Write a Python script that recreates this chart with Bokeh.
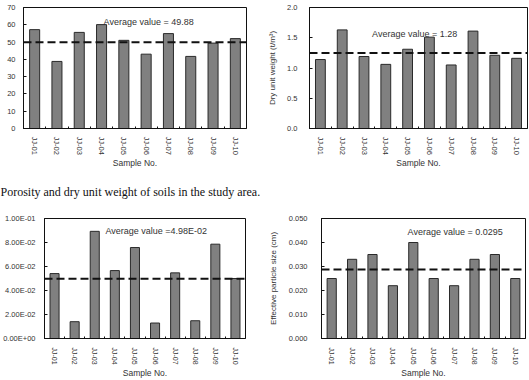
from bokeh.plotting import figure
from bokeh.models import Range1d, FixedTicker, Span, Label
from bokeh.layouts import column, row
from bokeh.embed import file_html
from bokeh.resources import INLINE

# ---------------- data ----------------
samples = ["JJ-01", "JJ-02", "JJ-03", "JJ-04", "JJ-05",
           "JJ-06", "JJ-07", "JJ-08", "JJ-09", "JJ-10"]

porosity = [57.2, 38.8, 55.6, 60.1, 51.0, 43.0, 54.9, 41.7, 49.4, 52.0]
dry_unit_weight = [1.14, 1.63, 1.19, 1.06, 1.31, 1.51, 1.05, 1.61, 1.21, 1.16]
permeability = [0.0541, 0.0140, 0.0893, 0.0566, 0.0758, 0.0129, 0.0547, 0.0148, 0.0786, 0.0500]
particle_size = [0.025, 0.033, 0.035, 0.022, 0.040, 0.025, 0.022, 0.033, 0.035, 0.025]

avg_lines = [49.88, 1.25, 0.0498, 0.0288]
avg_texts = ["Average value = 49.88", "Average value = 1.28",
             "Average value =4.98E-02", "Average value = 0.0295"]

tl_ticks = [0, 10, 20, 30, 40, 50, 60, 70]
tl_labels = ["0", "10", "20", "30", "40", "50", "60", "70"]
tr_ticks = [0, 0.5, 1.0, 1.5, 2.0]
tr_labels = ["0.0", "0.5", "1.0", "1.5", "2.0"]
bl_ticks = [0, 0.02, 0.04, 0.06, 0.08, 0.1]
bl_labels = ["0.00E+00", "2.00E-02", "4.00E-02", "6.00E-02", "8.00E-02", "1.00E-01"]
br_ticks = [0, 0.01, 0.02, 0.03, 0.04, 0.05]
br_labels = ["0.000", "0.010", "0.020", "0.030", "0.040", "0.050"]

x_title = "Sample No."
caption = "Porosity and dry unit weight of soils in the study area."

FONT = "Liberation Sans"
TXT = "#333333"


def panel(values, ymax, yticks, ylabels, ylabel, avg, avg_text, tx, ty,
          w, h, bl, br, bt, bb, ystand, ylabstand, xfont, xstand, xlabstand):
    idx = list(range(len(samples)))
    p = figure(width=w, height=h, x_range=Range1d(-0.5, len(samples) - 0.5),
               y_range=Range1d(0, ymax), output_backend="svg",
               toolbar_location=None, title=None,
               min_border_left=bl, min_border_right=br,
               min_border_top=bt, min_border_bottom=bb)
    p.background_fill_color = "white"
    p.border_fill_color = "white"
    p.outline_line_color = "#111111"
    p.outline_line_width = 1
    p.xgrid.visible = False
    p.ygrid.visible = False

    p.vbar(x=idx, top=values, width=0.45, fill_color="#808080",
           line_color="#2a2a2a", line_width=1)

    p.add_layout(Span(location=avg, dimension="width", line_color="#111111",
                      line_width=2, line_dash="8 4"))

    p.add_layout(Label(x=tx, y=ty, text=avg_text, text_font=FONT,
                       text_font_size="9px", text_color=TXT,
                       text_baseline="middle", text_align="left"))

    xa = p.xaxis[0]
    xa.ticker = FixedTicker(ticks=idx, minor_ticks=[i + 0.5 for i in idx[:-1]])
    xa.major_label_overrides = {i: s for i, s in enumerate(samples)}
    xa.major_label_orientation = "vertical"
    xa.major_tick_line_color = None
    xa.minor_tick_in = 2
    xa.minor_tick_out = 0
    xa.minor_tick_line_color = "#111111"
    xa.axis_line_color = "#111111"
    xa.major_label_text_font = FONT
    xa.major_label_text_font_size = xfont
    xa.major_label_text_color = TXT
    xa.major_label_standoff = xstand
    xa.axis_label = x_title
    xa.axis_label_text_font = FONT
    xa.axis_label_text_font_size = "8.5px"
    xa.axis_label_text_font_style = "normal"
    xa.axis_label_text_color = TXT
    xa.axis_label_standoff = xlabstand

    ya = p.yaxis[0]
    ya.ticker = FixedTicker(ticks=yticks)
    ya.major_label_overrides = {t: l for t, l in zip(yticks, ylabels)}
    ya.major_tick_in = 3
    ya.major_tick_out = 0
    ya.major_tick_line_color = "#111111"
    ya.minor_tick_line_color = None
    ya.axis_line_color = "#111111"
    ya.major_label_text_font = FONT
    ya.major_label_text_font_size = "7.5px"
    ya.major_label_text_color = TXT
    ya.major_label_standoff = ystand
    if ylabel:
        ya.axis_label = ylabel
        ya.axis_label_text_font = FONT
        ya.axis_label_text_font_size = "8px"
        ya.axis_label_text_font_style = "normal"
        ya.axis_label_text_color = TXT
        ya.axis_label_standoff = ylabstand
    return p


tl = panel(porosity, 70, tl_ticks, tl_labels, None, avg_lines[0], avg_texts[0],
           3.09, 61.9, 265, 180, 23, 19, 7, 52, 8, 0, "7.5px", 2, 0)

tr = panel(dry_unit_weight, 2.0, tr_ticks, tr_labels, "Dry unit weight (t/m\u00b3)",
           avg_lines[1], avg_texts[1], 2.37, 1.57, 264, 180, 39, 2, 7, 52, 12, 7,
           "7.5px", 2, 0)

# caption strip between the two rows
cap = figure(width=529, height=20, x_range=Range1d(0, 529), y_range=Range1d(0, 20),
             output_backend="svg", toolbar_location=None, title=None,
             min_border=0, x_axis_location=None, y_axis_location=None)
cap.outline_line_color = None
cap.xgrid.visible = False
cap.ygrid.visible = False
cap.background_fill_color = "white"
cap.border_fill_color = "white"
cap.add_layout(Label(x=0, y=9, text=caption, text_font="Liberation Serif",
                     text_font_size="12px", text_color="#111111",
                     text_baseline="alphabetic", text_align="left"))

bl = panel(permeability, 0.1, bl_ticks, bl_labels, None, avg_lines[2], avg_texts[2],
           2.53, 0.0893, 265, 180, 44, 20, 18, 41, 9, 0, "7px", 3, 0)

br = panel(particle_size, 0.05, br_ticks, br_labels, "Effective particle size (cm)",
           avg_lines[3], avg_texts[3], 3.72, 0.0442, 264, 180, 49, 4, 18, 41, 14, 8,
           "7px", 3, 0)

layout = column(row(tl, tr), cap, row(bl, br))

with open("out.html", "w") as f:
    f.write(file_html(layout, INLINE))
